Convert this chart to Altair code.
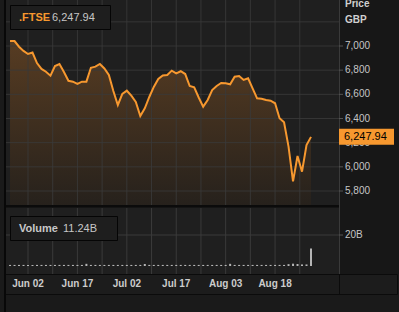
import altair as alt
import pandas as pd

# ---------------- data ----------------
idx = list(range(-4, 64))  # trading-day index, 0 = Jun 02
close = [7041, 7041, 6994, 6959,
         6934, 6946, 6859, 6810, 6787, 6754, 6834, 6851, 6785, 6712,
         6705, 6686, 6705, 6705, 6820, 6829, 6851, 6814, 6760, 6628,
         6512, 6603, 6630, 6589, 6537, 6421, 6484, 6578, 6661, 6727,
         6756, 6760, 6796, 6774, 6791, 6768, 6669, 6658, 6574, 6498,
         6553, 6636, 6669, 6694, 6691, 6683, 6746, 6752, 6719, 6733,
         6650, 6567, 6564, 6553, 6547, 6526, 6402, 6369, 6167, 5880,
         6090, 5960, 6181, 6247.94]
volume = [0.7, 0.7, 0.7, 0.7,
          0.7, 0.7, 0.7, 0.7, 0.7, 0.7, 0.7, 0.7, 0.7, 0.7,
          0.7, 0.7, 0.7, 1.4, 0.7, 0.7, 0.7, 0.7, 0.7, 0.7,
          0.7, 0.7, 0.7, 0.7, 0.7, 0.7, 1.3, 0.7, 0.7, 0.7,
          0.7, 0.7, 0.7, 0.7, 0.7, 0.7, 0.7, 0.7, 0.7, 0.7,
          0.7, 0.7, 0.7, 0.7, 0.7, 1.4, 0.7, 0.7, 0.7, 0.7,
          0.7, 0.7, 0.7, 0.7, 0.7, 0.7, 0.7, 0.7, 1.2, 1.5,
          1.3, 1.0, 1.0, 11.24]
x_ticks = [0, 11, 22, 33, 44, 55]
x_labels = ["Jun 02", "Jun 17", "Jul 02", "Jul 17", "Aug 03", "Aug 18"]
x_grid = [0, 5.5, 11, 16.5, 22, 27.5, 33, 38.5, 44, 49.5, 55, 60.5]
price_grid = [5800, 6000, 6200, 6400, 6600, 6800, 7000, 7200]
price_ticks = [5800, 6000, 6200, 6400, 6600, 6800, 7000]
price_labels = ["5,800", "6,000", "6,200", "6,400", "6,600", "6,800", "7,000"]
price_floor = 5675  # bottom of the price panel
vol_ticks = [20]
vol_labels = ["20B"]
symbol = ".FTSE"
last_close = close[-1]
last_vol = volume[-1]

# ---------------- styling ----------------
FONT = "Liberation Sans"
ORANGE = "#f7982f"
TXT = "#c6c6c6"
GRID = "#3a3a3a"

df = pd.DataFrame({"i": idx, "close": close, "vol": volume})
one = pd.DataFrame({"a": [0]})

XS = alt.Scale(domain=[0, 63], range=[23, 316], nice=False, zero=False)
PY = alt.Scale(domain=[5800, 7000], range=[191, 46], nice=False, zero=False)
VY = alt.Scale(domain=[0, 20], range=[266, 235], nice=False, zero=False)


def rect(x, x2, y, y2, fill, stroke=None):
    kw = {"fill": fill}
    if stroke:
        kw.update(stroke=stroke, strokeWidth=1)
    return alt.Chart(one).mark_rect(**kw).encode(
        x=alt.value(x), x2=alt.value(x2), y=alt.value(y), y2=alt.value(y2))


def text(s, x, y, size=11, bold=False, color=TXT, align="left"):
    kw = dict(text=s, font=FONT, fontSize=size, color=color,
              align=align, baseline="middle")
    if bold:
        kw["fontWeight"] = "bold"
    return alt.Chart(one).mark_text(**kw).encode(x=alt.value(x), y=alt.value(y))


layers = []
# panels background
layers.append(rect(6, 339, 0, 274, "#1f1f1f"))
layers.append(rect(339, 399, 0, 274, "#171717"))

# area under price line
grad = alt.Gradient(gradient="linear",
                    stops=[alt.GradientStop(color="#573c22", offset=0),
                           alt.GradientStop(color="#26211c", offset=1)],
                    x1=1, x2=1, y1=0, y2=1)
layers.append(alt.Chart(df).mark_area(fill=grad).encode(
    x=alt.X("i:Q", scale=XS, axis=None),
    y=alt.Y("close:Q", scale=PY, axis=None),
    y2=alt.datum(price_floor)))

# grids
dfg = pd.DataFrame({"g": x_grid})
dfp = pd.DataFrame({"v": price_grid})
layers.append(alt.Chart(dfp).mark_rule(color=GRID, opacity=0.85).encode(
    y=alt.Y("v:Q", scale=PY, axis=None), x=alt.value(6), x2=alt.value(339)))
layers.append(alt.Chart(dfg).mark_rule(color=GRID, opacity=0.85).encode(
    x=alt.X("g:Q", scale=XS, axis=None), y=alt.value(0), y2=alt.value(205)))
layers.append(alt.Chart(dfg).mark_rule(color=GRID).encode(
    x=alt.X("g:Q", scale=XS, axis=None), y=alt.value(208), y2=alt.value(274)))
dfv = pd.DataFrame({"v": vol_ticks, "lab": vol_labels})
layers.append(alt.Chart(dfv).mark_rule(color=GRID).encode(
    y=alt.Y("v:Q", scale=VY, axis=None), x=alt.value(6), x2=alt.value(339)))

# price line
layers.append(alt.Chart(df).mark_line(color=ORANGE, strokeWidth=2).encode(
    x=alt.X("i:Q", scale=XS, axis=None),
    y=alt.Y("close:Q", scale=PY, axis=None)))

# volume bars
layers.append(alt.Chart(df).mark_bar(size=2, orient="vertical", color="#b5b5b5").encode(
    x=alt.X("i:Q", scale=XS, axis=None),
    y=alt.Y("vol:Q", scale=VY, axis=None)))

# separators / frames
layers.append(rect(5, 339, 205, 207.5, "#0b0b0b"))
layers.append(rect(5.5, 397.5, 274.5, 294.5, "#1c1c1c", stroke="#0b0b0b"))
layers.append(alt.Chart(one).mark_rule(color="#0b0b0b").encode(
    x=alt.value(339.5), y=alt.value(274), y2=alt.value(294)))
layers.append(alt.Chart(one).mark_rule(color="#3a3a3a").encode(
    x=alt.value(339.5), y=alt.value(0), y2=alt.value(274)))

# y ticks and labels
dfpt = pd.DataFrame({"v": price_ticks, "lab": price_labels})
layers.append(alt.Chart(dfpt).mark_rule(color="#555555").encode(
    y=alt.Y("v:Q", scale=PY, axis=None), x=alt.value(339), x2=alt.value(343)))
layers.append(alt.Chart(dfpt).mark_text(
    font=FONT, fontSize=10, color=TXT, align="left", baseline="middle").encode(
    y=alt.Y("v:Q", scale=PY, axis=None), x=alt.value(345), text="lab:N"))
layers.append(alt.Chart(dfv).mark_rule(color="#555555").encode(
    y=alt.Y("v:Q", scale=VY, axis=None), x=alt.value(339), x2=alt.value(343)))
layers.append(alt.Chart(dfv).mark_text(
    font=FONT, fontSize=10, color=TXT, align="left", baseline="middle").encode(
    y=alt.Y("v:Q", scale=VY, axis=None), x=alt.value(345), text="lab:N"))
layers.append(text("Price", 345, 4, size=10, bold=True, color="#d0d0d0"))
layers.append(text("GBP", 345, 20, size=10, bold=True, color="#d0d0d0"))

# x labels
dfx = pd.DataFrame({"t": x_ticks, "lab": x_labels})
layers.append(alt.Chart(dfx).mark_text(
    font=FONT, fontSize=10, fontWeight="bold", color="#cccccc",
    align="center", baseline="middle").encode(
    x=alt.X("t:Q", scale=XS, axis=None), y=alt.value(284), text="lab:N"))

# last price tag
dfl = pd.DataFrame({"v": [last_close], "lab": [f"{last_close:,.2f}"]})
layers.append(alt.Chart(dfl).mark_rect(color=ORANGE, yOffset=-8, y2Offset=8).encode(
    x=alt.value(339), x2=alt.value(394),
    y=alt.Y("v:Q", scale=PY, axis=None), y2="v:Q"))
layers.append(alt.Chart(dfl).mark_text(
    font=FONT, fontSize=11, color="#000000", align="left", baseline="middle").encode(
    x=alt.value(344), y=alt.Y("v:Q", scale=PY, axis=None), text="lab:N"))

# legend boxes
layers.append(rect(10.5, 110.5, 5.5, 29.5, "#1e1e1e", stroke="#050505"))
layers.append(text(symbol, 19, 17.5, bold=True, color=ORANGE))
layers.append(text(f"{last_close:,.2f}", 52, 17.5, color=TXT))
layers.append(rect(10.5, 117.5, 216.5, 240.5, "#1e1e1e", stroke="#050505"))
layers.append(text("Volume", 19, 228.5, bold=True, color="#c8c8c8"))
layers.append(text(f"{last_vol:.2f}B", 63, 228.5, color=TXT))

# left edge
layers.append(rect(0, 4, 0, 312, "#1a1a1a"))
layers.append(rect(4, 6, 0, 312, "#080808"))

chart = alt.layer(*layers).resolve_scale(y="independent").properties(
    width=399, height=312,
    autosize=alt.AutoSizeParams(type="none"),
    padding=0,
    background="#1a1a1a",
).configure_view(stroke=None)

chart.save("out.html", embed_options={"renderer": "svg", "actions": False})
